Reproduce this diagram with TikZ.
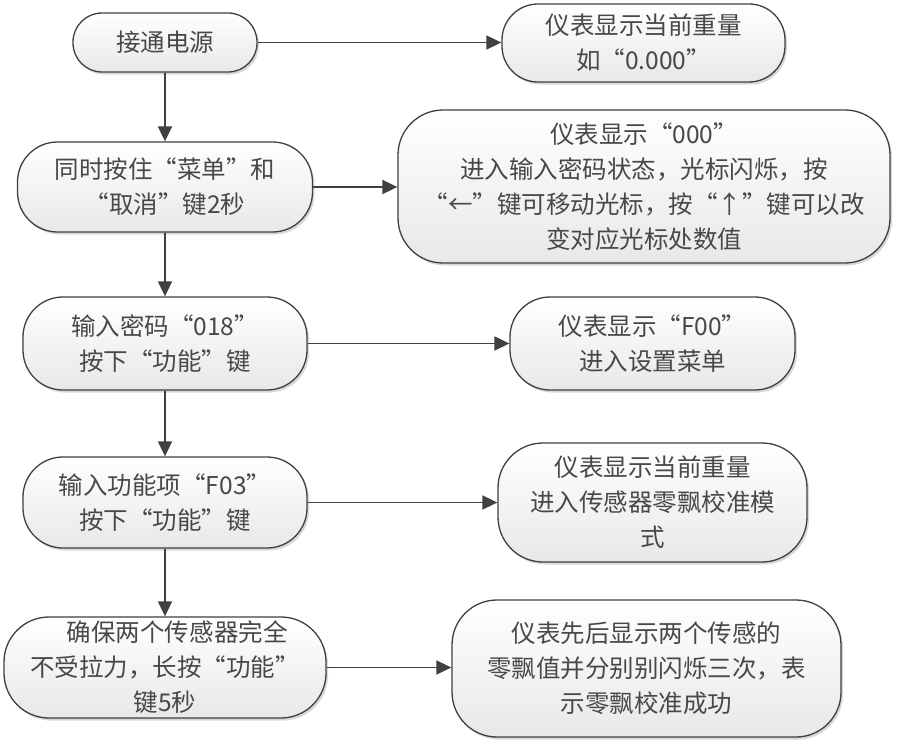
\documentclass[tikz,border=0pt]{standalone}
\usepackage{fontspec}
\setmainfont{Noto Sans CJK SC}
\usetikzlibrary{arrows.meta,shadows}
\newcommand{\qlq}{{\addfontfeature{CharacterWidth=Full}“}}
\newcommand{\qrq}{{\addfontfeature{CharacterWidth=Full}”}}
\definecolor{edgec}{RGB}{64,64,64}
\definecolor{txtc}{RGB}{72,72,72}
\begin{document}
\begin{tikzpicture}[x=1bp,y=-1bp,
  box/.style={draw=edgec, line width=1.3bp, rounded corners=#1,
    top color=white, bottom color=black!9,
    drop shadow={shadow xshift=2bp, shadow yshift=-2.5bp, opacity=0.3},
    align=center, inner sep=0pt, text=txtc,
    font=\fontsize{24.5bp}{35bp}\selectfont},
  box/.default=40bp,
  arr/.style={draw=edgec, line width=1.8bp, -{Triangle[length=15bp,width=14bp]}}]
\useasboundingbox[fill=white] (0,0) rectangle (920,748);

% left column
\node[box=29bp, minimum width=184bp, minimum height=59bp] (n1) at (165,42.5) {接通电源};
\node[box=40bp, minimum width=295bp, minimum height=90bp] (n2) at (165,187) {同时按住\qlq 菜单\qrq 和\\\qlq 取消\qrq 键2秒};
\node[box=40bp, minimum width=284bp, minimum height=93bp] (n3) at (165,343.5) {输入密码\qlq 018\qrq\\按下\qlq 功能\qrq 键};
\node[box=40bp, minimum width=284bp, minimum height=91bp] (n4) at (165,502.5) {输入功能项\qlq F03\qrq\\按下\qlq 功能\qrq 键};
\node[box=45bp, minimum width=322bp, minimum height=101bp] (n5) at (165,667.5) {\hspace*{1em}确保两个传感器完全\\不受拉力，长按\qlq 功能\qrq\\键5秒};

% right column
\node[box=36bp, minimum width=283bp, minimum height=78bp] (r1) at (643.5,43) {仪表显示当前重量\\如\qlq 0.000\qrq};
\node[box=45bp, minimum width=492bp, minimum height=153bp] (r2) at (644,186.5) {仪表显示\qlq 000\qrq\\进入输入密码状态，光标闪烁，按\\\qlq ←\qrq 键可移动光标，按\qlq ↑\qrq 键可以改\\变对应光标处数值};
\node[box=40bp, minimum width=285bp, minimum height=93bp] (r3) at (652.5,343.5) {仪表显示\qlq F00\qrq\\进入设置菜单};
\node[box=45bp, minimum width=309bp, minimum height=119bp] (r4) at (652.5,502.5) {仪表显示当前重量\\进入传感器零飘校准模\\式};
\node[box=45bp, minimum width=389bp, minimum height=137bp] (r5) at (646.5,668.5) {仪表先后显示两个传感的\\零飘值并分别别闪烁三次，表\\示零飘校准成功};

% vertical connectors
\draw[arr] (n1.south) -- (n1.south |- n2.north);
\draw[arr] (n2.south) -- (n2.south |- n3.north);
\draw[arr] (n3.south) -- (n3.south |- n4.north);
\draw[arr] (n4.south) -- (n4.south |- n5.north);

% horizontal connectors
\draw[arr] (n1.east) -- (n1.east -| r1.west);
\draw[arr] (n2.east) -- (n2.east -| r2.west);
\draw[arr] (n3.east) -- (n3.east -| r3.west);
\draw[arr] (n4.east) -- (n4.east -| r4.west);
\draw[arr] (n5.east) -- (n5.east -| r5.west);
\end{tikzpicture}
\end{document}
